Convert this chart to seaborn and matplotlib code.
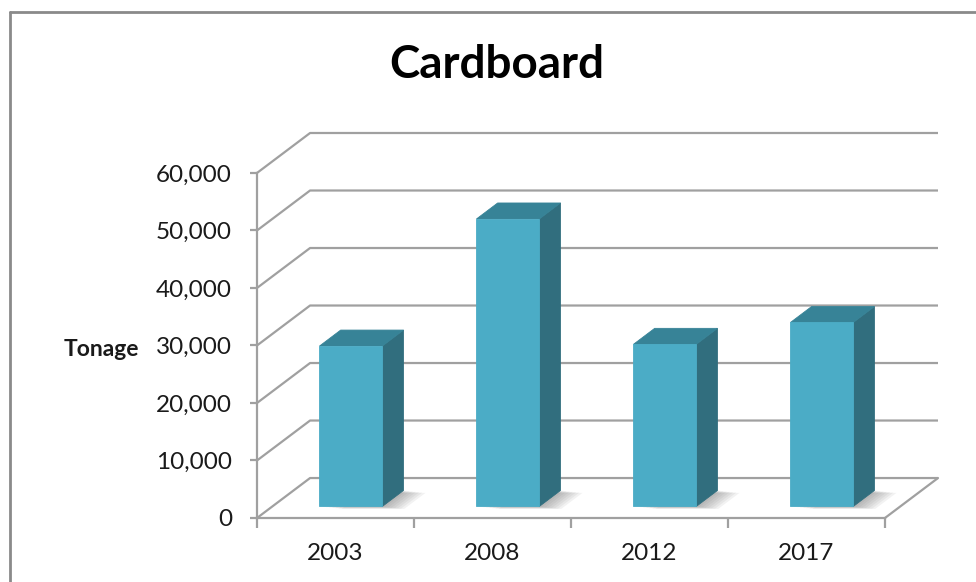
import matplotlib
matplotlib.use("Agg")
import matplotlib.pyplot as plt
import matplotlib.transforms as mtransforms
from matplotlib.patches import Polygon
from matplotlib.lines import Line2D
from matplotlib.ticker import FuncFormatter
import seaborn as sns
import pandas as pd

# data
years = ["2003", "2008", "2012", "2017"]
tonnage = [27900, 50000, 28200, 32000]
yticks = [0, 10000, 20000, 30000, 40000, 50000, 60000]

sns.set_style("white")
plt.rcParams["font.family"] = ["Lato", "DejaVu Sans"]

FRONT = "#4bacc6"
SIDE = "#316e7e"
TOP = "#378397"
GRID = "#a0a0a0"
TXT = "#1a1a1a"

# fake 3d: oblique offsets in data units
DX, DY = 0.338, 6950   # full floor depth
BX, BY = 0.098, 2000   # front face of bars sits a bit into the depth
SX, SY = 0.135, 2780   # bar depth

fig = plt.figure(figsize=(9.76, 5.82), dpi=100)
ax = fig.add_axes([257 / 976, 64 / 582, 681 / 976, 385 / 582])

df = pd.DataFrame({"Year": years, "Tonnage": tonnage})
sns.barplot(data=df, x="Year", y="Tonnage", color=FRONT, width=0.4,
            saturation=1, edgecolor=FRONT, linewidth=0.6, ax=ax, zorder=5)

# back wall + floor lines
for v in yticks:
    ax.plot([-0.5, -0.5 + DX, 3.5 + DX], [v, v + DY, v + DY],
            color=GRID, lw=1.6, zorder=1, clip_on=False, solid_capstyle="butt")
ax.plot([3.5, 3.5 + DX], [0, DY], color=GRID, lw=1.6, zorder=1, clip_on=False)

# push bars into the depth, add side / top faces and a soft shadow
shift = mtransforms.Affine2D().translate(BX, BY) + ax.transData
for p in list(ax.patches):
    p.set_transform(shift)
    x0 = p.get_x() + BX
    w = p.get_width()
    h = p.get_height()
    y0 = BY
    for k in range(7):
        ox, oy = 0.02 + 0.02 * k, -60 - 60 * k
        foot = [(x0 + ox, y0 + oy), (x0 + w + ox, y0 + oy),
                (x0 + w + SX + ox, y0 + SY + oy), (x0 + SX + ox, y0 + SY + oy)]
        ax.add_patch(Polygon(foot, closed=True, facecolor="#707070", alpha=0.09,
                             lw=0, zorder=2))
    side = [(x0 + w, y0), (x0 + w + SX, y0 + SY), (x0 + w + SX, y0 + h + SY), (x0 + w, y0 + h)]
    top = [(x0, y0 + h), (x0 + w, y0 + h), (x0 + w + SX, y0 + h + SY), (x0 + SX, y0 + h + SY)]
    ax.add_patch(Polygon(side, closed=True, facecolor=SIDE, edgecolor=SIDE, lw=0.6, zorder=4))
    ax.add_patch(Polygon(top, closed=True, facecolor=TOP, edgecolor=TOP, lw=0.6, zorder=4))

ax.set_xlim(-0.5, 3.5 + DX)
ax.set_ylim(0, 60000 + DY)
ax.patch.set_alpha(0)

for s in ["top", "right"]:
    ax.spines[s].set_visible(False)
ax.spines["left"].set_bounds(0, 60000)
ax.spines["bottom"].set_bounds(-0.5, 3.5)
for s in ["left", "bottom"]:
    ax.spines[s].set_color(GRID)
    ax.spines[s].set_linewidth(1.6)
    ax.spines[s].set_zorder(1)

ax.set_yticks(yticks)
ax.yaxis.set_major_formatter(FuncFormatter(lambda v, _: f"{int(v):,}"))
ax.tick_params(axis="y", direction="out", length=5, width=1.6, color=GRID,
               labelsize=17.5, labelcolor=TXT, pad=13, left=True)

ax.set_xticks([-0.5, 0.5, 1.5, 2.5, 3.5])
ax.set_xticklabels([])
ax.set_xticks(range(len(years)), minor=True)
ax.set_xticklabels(years, minor=True)
ax.tick_params(axis="x", which="major", direction="out", length=7, width=1.6,
               color=GRID, bottom=True)
ax.tick_params(axis="x", which="minor", length=0, labelsize=17.5,
               labelcolor=TXT, pad=18)

ax.set_xlabel("")
ax.set_ylabel("Tonage", rotation=0, fontsize=16.5, fontweight="bold",
              color=TXT, ha="center", va="center")
ax.yaxis.set_label_coords((101 - 257) / 681, (518 - 350) / 385)

fig.text(497 / 976, 1 - 65 / 582, "Cardboard", fontsize=33, fontweight="bold",
         ha="center", va="center", color="black")

# chart frame (only the top and left edges are inside the picture)
fig.add_artist(Line2D([10 / 976, 10 / 976], [0, 1 - 12 / 582], color="#8a8a8a", lw=2))
fig.add_artist(Line2D([10 / 976, 1], [1 - 12 / 582, 1 - 12 / 582], color="#8a8a8a", lw=2))

fig.savefig("out.png", dpi=100)
